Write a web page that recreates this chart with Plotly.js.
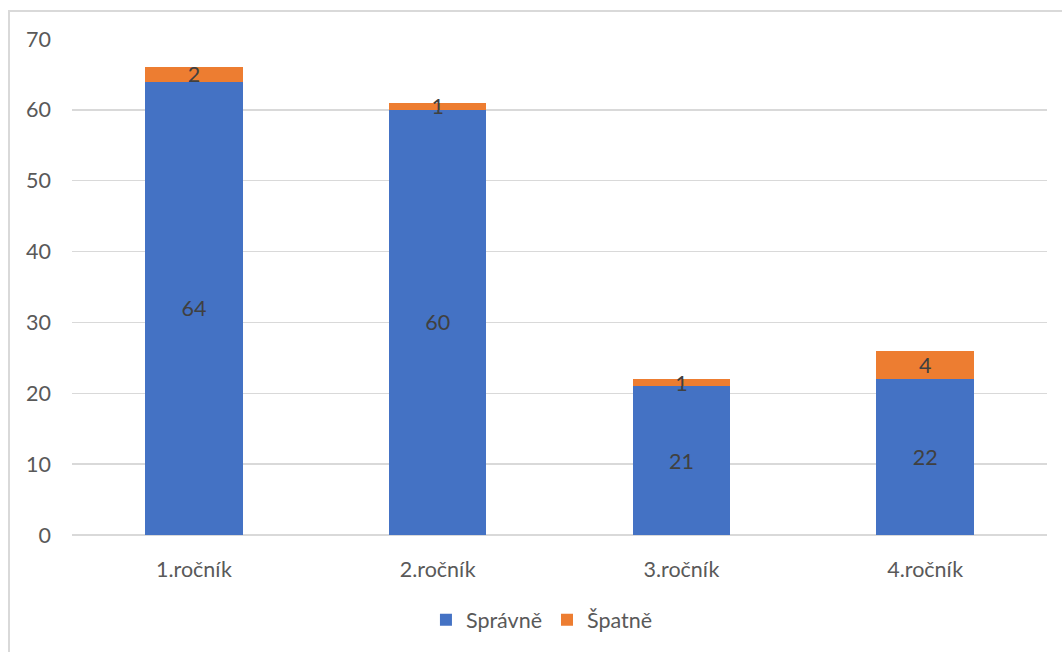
<!DOCTYPE html>
<html>
<head>
<meta charset="utf-8">
<script src="https://cdn.plot.ly/plotly-3.0.1.min.js"></script>
<style>
  html, body { margin: 0; padding: 0; background: #fff; }
  #wrap { position: relative; width: 1062px; height: 652px; overflow: hidden; }
  #frame { position: absolute; left: 8px; top: 10px; width: 1100px; height: 700px;
           border-top: 2px solid #d9d9d9; border-left: 2px solid #d9d9d9; box-sizing: border-box; }
  #chart { position: absolute; left: 0; top: 0; width: 1062px; height: 652px; }
</style>
</head>
<body>
<div id="wrap">
  <div id="frame"></div>
  <div id="chart"></div>
</div>
<script>
const categories = ["1.ročník", "2.ročník", "3.ročník", "4.ročník"];
const spravne = [64, 60, 21, 22];
const spatne = [2, 1, 1, 4];
const seriesNames = ["Správně", "Špatně"];
const colors = ["#4472C4", "#ED7D31"];

const font = "Lato, 'Open Sans', 'Noto Sans', sans-serif";
const fs = 21.5;

function barTrace(name, values, color) {
  return {
    type: "bar",
    name: name,
    x: categories,
    y: values,
    marker: { color: color, line: { width: 0 } },
    text: values.map(String),
    textposition: "inside",
    insidetextanchor: "middle",
    textangle: 0,
    constraintext: "none",
    textfont: { family: font, size: fs, color: "#404040" },
    hoverinfo: "x+y+name"
  };
}

const data = [
  barTrace(seriesNames[0], spravne, colors[0]),
  barTrace(seriesNames[1], spatne, colors[1])
];

const layout = {
  width: 1062,
  height: 652,
  barmode: "stack",
  bargap: 0.6,
  paper_bgcolor: "rgba(0,0,0,0)",
  plot_bgcolor: "rgba(0,0,0,0)",
  margin: { l: 72, r: 15, t: 39, b: 117 },
  font: { family: font, size: fs, color: "#595959" },
  uniformtext: { mode: "show", minsize: fs },
  xaxis: {
    showgrid: false,
    showline: false,
    zeroline: false,
    ticks: "",
    tickfont: { family: font, size: fs, color: "#595959" },
    ticklabelstandoff: 19
  },
  yaxis: {
    range: [0, 70],
    dtick: 10,
    tick0: 0,
    showgrid: true,
    gridcolor: "#d9d9d9",
    gridwidth: 1.5,
    zeroline: true,
    zerolinecolor: "#d9d9d9",
    zerolinewidth: 1.5,
    showline: false,
    ticks: "",
    tickfont: { family: font, size: fs, color: "#595959" },
    ticklabelstandoff: 20
  },
  legend: {
    orientation: "h",
    x: 0.482,
    xanchor: "center",
    y: -0.171,
    yanchor: "middle",
    font: { family: font, size: fs, color: "#595959" },
    itemwidth: 30,
    traceorder: "normal",
    bgcolor: "rgba(0,0,0,0)"
  },
  showlegend: true
};

Plotly.newPlot("chart", data, layout, { displayModeBar: false, staticPlot: true });
</script>
</body>
</html>
